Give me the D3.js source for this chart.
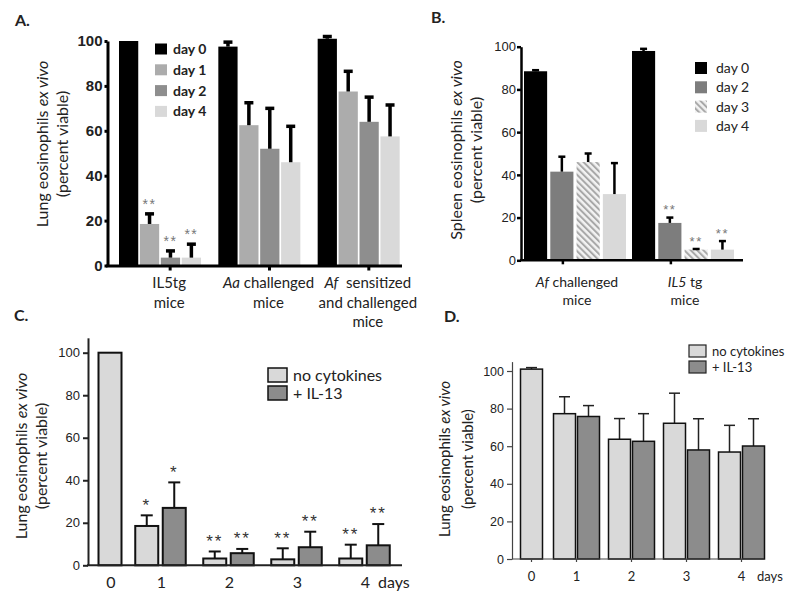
<!DOCTYPE html>
<html><head><meta charset="utf-8">
<script src="https://cdn.jsdelivr.net/npm/d3@7"></script>
<style>body{margin:0;background:#fff;}svg{display:block;}</style>
</head><body>
<svg id="chart" width="800" height="602"></svg>
<script>
// ================= DATA =================
// Panel A
const categoriesA = ["IL5tg mice", "Aa challenged mice", "Af sensitized and challenged mice"];
const labelLinesA = [["IL5tg", "mice"], ["<i>Aa</i> challenged", "mice"], ["<i>Af</i>\u00a0 sensitized", "and challenged", "mice"]];
const seriesA = ["day 0", "day 1", "day 2", "day 4"];
const meanA_day0 = [100, 97.5, 101];
const meanA_day1 = [18.5, 62.5, 77.5];
const meanA_day2 = [3.5, 52, 64];
const meanA_day4 = [3.5, 46, 57.5];
const semA_day0 = [0, 2, 1];
const semA_day1 = [4.5, 10, 9];
const semA_day2 = [3, 18, 11];
const semA_day4 = [6, 16, 14];
const starsA_day0 = ["", "", ""];
const starsA_day1 = ["**", "", ""];
const starsA_day2 = ["**", "", ""];
const starsA_day4 = ["**", "", ""];
const ticksA = [0, 20, 40, 60, 80, 100];

// Panel B
const categoriesB = ["Af challenged mice", "IL5 tg mice"];
const labelLinesB = [["<i>Af</i> challenged", "mice"], ["<i>IL5</i> tg", "mice"]];
const seriesB = ["day 0", "day 2", "day 3", "day 4"];
const meanB_day0 = [88.5, 98];
const meanB_day2 = [41.5, 17.5];
const meanB_day3 = [46, 5];
const meanB_day4 = [31, 5];
const semB_day0 = [0.5, 1];
const semB_day2 = [7, 2.5];
const semB_day3 = [4, 0.3];
const semB_day4 = [14.5, 4];
const starsB_day0 = ["", ""];
const starsB_day2 = ["", "**"];
const starsB_day3 = ["", "**"];
const starsB_day4 = ["", "**"];
const ticksB = [0, 20, 40, 60, 80, 100];

// Panel C
const daysC = [0, 1, 2, 3, 4];
const seriesC = ["no cytokines", "+ IL-13"];
const meanC_none = [100, 18.5, 3.2, 2.8, 3.2];
const meanC_il13 = [null, 27, 5.7, 8.5, 9.4];
const semC_none = [0, 5, 3.3, 5.2, 6.5];
const semC_il13 = [null, 12, 2, 7.3, 10];
const starsC_none = ["", "*", "**", "**", "**"];
const starsC_il13 = ["", "*", "**", "**", "**"];
const ticksC = [0, 20, 40, 60, 80, 100];

// Panel D
const daysD = [0, 1, 2, 3, 4];
const seriesD = ["no cytokines", "+ IL-13"];
const meanD_none = [101, 77.3, 63.7, 72.2, 56.9];
const meanD_il13 = [null, 75.8, 62.6, 58, 60.1];
const semD_none = [0.8, 9, 11, 16, 14.2];
const semD_il13 = [null, 5.8, 14.7, 16.6, 14.5];
const ticksD = [0, 20, 40, 60, 80, 100];

const yTitleLines = ["Lung eosinophils <i>ex vivo</i>", "(percent viable)"];
const yTitleLinesB = ["Spleen eosinophils <i>ex vivo</i>", "(percent viable)"];

// ================= HELPERS =================
const svg = d3.select("#chart");
const FONT = "Lato, 'Open Sans', sans-serif";
const ARIAL = "'Liberation Sans', Arial, sans-serif";
const INK = "#222";

const defs = svg.append("defs");
const pat = defs.append("pattern").attr("id", "hatch").attr("patternUnits", "userSpaceOnUse")
  .attr("width", 4.5).attr("height", 4.5).attr("patternTransform", "rotate(-45)");
pat.append("rect").attr("width", 4.5).attr("height", 4.5).attr("fill", "#f2f2f2");
pat.append("rect").attr("width", 2).attr("height", 4.5).attr("fill", "#a8a8a8");

function rich(textSel, str) {
  str.split(/(<i>.*?<\/i>)/).filter(s => s.length).forEach(s => {
    const it = s.startsWith("<i>");
    textSel.append("tspan").attr("font-style", it ? "italic" : null).text(it ? s.slice(3, -4) : s);
  });
}
function yTitle(x1, x2, cy, lines, size) {
  lines.forEach((ln, i) => {
    const t = svg.append("text").attr("transform", `translate(${i ? x2 : x1},${cy}) rotate(-90)`)
      .attr("text-anchor", "middle").attr("dy", "0.35em").attr("font-family", FONT)
      .attr("font-size", size).attr("fill", INK);
    rich(t, ln);
  });
}
function panelLabel(x, y, txt) {
  svg.append("text").attr("x", x).attr("y", y).attr("font-family", FONT).attr("font-weight", 700)
    .attr("font-size", 16).attr("fill", INK).text(txt);
}
function yAxis(scale, x, ticks, opts) {
  const g = svg.append("g").attr("transform", `translate(${x},0)`)
    .call(d3.axisLeft(scale).tickValues(ticks).tickSize(opts.tick).tickSizeOuter(0).tickPadding(opts.pad));
  g.select(".domain").attr("stroke", opts.color).attr("stroke-width", opts.width);
  g.selectAll(".tick line").attr("stroke", opts.color).attr("stroke-width", opts.width);
  g.selectAll(".tick text").attr("font-family", ARIAL).attr("font-size", opts.font)
    .attr("font-weight", opts.bold ? 700 : 400).attr("fill", INK);
  return g;
}
function errBar(g, x, y0, y1, cap, w, color) {
  g.append("line").attr("x1", x).attr("x2", x).attr("y1", y0).attr("y2", y1).attr("stroke", color).attr("stroke-width", w);
  g.append("line").attr("x1", x - cap / 2).attr("x2", x + cap / 2).attr("y1", y1).attr("y2", y1).attr("stroke", color).attr("stroke-width", w);
}
function star(g, x, cy, txt, size, color, ls) {
  if (!txt) return;
  g.append("text").attr("x", x).attr("y", cy + size * 0.58).attr("text-anchor", "middle")
    .attr("font-family", ARIAL).attr("font-size", size).attr("fill", color)
    .attr("letter-spacing", ls).text(txt);
}

// ================= PANEL A =================
{
  const yA = d3.scaleLinear().domain([0, 100]).range([265.5, 41]);
  const xA0 = d3.scaleBand().domain(categoriesA).range([119, 417]);
  const xA1 = d3.scaleBand().domain(seriesA).range([0, 82]).paddingInner(0.08);
  const colA = d3.scaleOrdinal().domain(seriesA).range(["#000000", "#acacac", "#8e8e8e", "#d9d9d9"]);
  const means = [meanA_day0, meanA_day1, meanA_day2, meanA_day4];
  const sems = [semA_day0, semA_day1, semA_day2, semA_day4];
  const stars = [starsA_day0, starsA_day1, starsA_day2, starsA_day4];
  const rows = [];
  seriesA.forEach((s, si) => categoriesA.forEach((c, ci) =>
    rows.push({ s, c, v: means[si][ci], e: sems[si][ci], st: stars[si][ci] })));
  const g = svg.append("g");
  g.selectAll("rect").data(rows).join("rect")
    .attr("x", d => xA0(d.c) + xA1(d.s)).attr("width", xA1.bandwidth())
    .attr("y", d => yA(d.v)).attr("height", d => yA(0) - yA(d.v)).attr("fill", d => colA(d.s));
  rows.forEach(d => {
    const cx = xA0(d.c) + xA1(d.s) + xA1.bandwidth() / 2;
    if (d.e > 0) errBar(g, cx, yA(d.v), yA(d.v + d.e), 9, 3.5, "#000");
    star(g, cx, yA(d.v + d.e) - 13, d.st, 14, "#777", 1.5);
  });
  yAxis(yA, 107.5, ticksA, { tick: 3, pad: 2, color: "#000", width: 3, font: 15, bold: true });
  svg.append("line").attr("x1", 106).attr("x2", 402).attr("y1", yA(0) + 0.5).attr("y2", yA(0) + 0.5)
    .attr("stroke", "#000").attr("stroke-width", 3);
  categoriesA.forEach((c, ci) => {
    const tx = xA0(c) + xA0.bandwidth() * 0.515;
    svg.append("line").attr("x1", tx).attr("x2", tx).attr("y1", yA(0)).attr("y2", yA(0) + 5)
      .attr("stroke", "#000").attr("stroke-width", 3);
    labelLinesA[ci].forEach((ln, li) => {
      const t = svg.append("text").attr("x", tx - 1).attr("y", 283 + li * 19.5).attr("dy", "0.35em")
        .attr("text-anchor", "middle").attr("font-family", FONT).attr("font-size", 15).attr("fill", INK);
      rich(t, ln);
    });
  });
  seriesA.forEach((s, i) => {
    const cy = 49 + i * 20.8;
    svg.append("rect").attr("x", 155).attr("y", cy - 5.5).attr("width", 12).attr("height", 11).attr("fill", colA(s));
    svg.append("text").attr("x", 173).attr("y", cy).attr("dy", "0.35em").attr("font-family", FONT)
      .attr("font-weight", 700).attr("font-size", 14).attr("fill", INK).text(s);
  });
  yTitle(42, 62, 144, yTitleLines, 16);
  panelLabel(15, 26, "A.");
}

// ================= PANEL B =================
{
  const yB = d3.scaleLinear().domain([0, 100]).range([260.3, 46.7]);
  const xB0 = d3.scaleBand().domain(categoriesB).range([524, 740]);
  const xB1 = d3.scaleBand().domain(seriesB).range([0, 102]).paddingInner(0.12);
  const colB = d3.scaleOrdinal().domain(seriesB).range(["#000000", "#7d7d7d", "url(#hatch)", "#d9d9d9"]);
  const means = [meanB_day0, meanB_day2, meanB_day3, meanB_day4];
  const sems = [semB_day0, semB_day2, semB_day3, semB_day4];
  const stars = [starsB_day0, starsB_day2, starsB_day3, starsB_day4];
  const rows = [];
  seriesB.forEach((s, si) => categoriesB.forEach((c, ci) =>
    rows.push({ s, c, v: means[si][ci], e: sems[si][ci], st: stars[si][ci] })));
  const g = svg.append("g");
  g.selectAll("rect").data(rows).join("rect")
    .attr("x", d => xB0(d.c) + xB1(d.s)).attr("width", xB1.bandwidth())
    .attr("y", d => yB(d.v)).attr("height", d => yB(0) - yB(d.v)).attr("fill", d => colB(d.s));
  rows.forEach(d => {
    const cx = xB0(d.c) + xB1(d.s) + xB1.bandwidth() / 2;
    errBar(g, cx, yB(d.v), yB(d.v + d.e), 7, 2.5, "#000");
    star(g, cx, yB(d.v + d.e) - 11, d.st, 13, "#777", 1.5);
  });
  yAxis(yB, 521, ticksB, { tick: 4, pad: 1, color: "#000", width: 2.5, font: 13, bold: false });
  svg.append("line").attr("x1", 520).attr("x2", 743).attr("y1", yB(0)).attr("y2", yB(0))
    .attr("stroke", "#000").attr("stroke-width", 2.5);
  categoriesB.forEach((c, ci) => {
    const tx = xB0(c) + xB0.bandwidth() * 0.36;
    svg.append("line").attr("x1", tx).attr("x2", tx).attr("y1", yB(0)).attr("y2", yB(0) + 4)
      .attr("stroke", "#000").attr("stroke-width", 2.5);
    const cx = xB0(c) + xB0.bandwidth() * 0.5;
    labelLinesB[ci].forEach((ln, li) => {
      const t = svg.append("text").attr("x", cx - 1).attr("y", 282 + li * 18.5).attr("dy", "0.35em")
        .attr("text-anchor", "middle").attr("font-family", FONT).attr("font-size", 14).attr("fill", INK);
      rich(t, ln);
    });
  });
  seriesB.forEach((s, i) => {
    const cy = 68 + i * 19.3;
    svg.append("rect").attr("x", 695).attr("y", cy - 6).attr("width", 12).attr("height", 12).attr("fill", colB(s));
    svg.append("text").attr("x", 716).attr("y", cy).attr("dy", "0.35em").attr("font-family", FONT)
      .attr("font-size", 14).attr("fill", INK).text(s);
  });
  yTitle(456, 476, 150, yTitleLinesB, 16);
  panelLabel(431, 23, "B.");
}

// ================= PANEL C =================
{
  const yC = d3.scaleLinear().domain([0, 107]).range([565.3, 565.3 - 107 * 2.126]);
  const xC = d3.scaleLinear().domain([0, 1, 4]).range([110, 160.5, 364.5]);
  const colC = d3.scaleOrdinal().domain(seriesC).range(["#d9d9d9", "#8c8c8c"]);
  const bw = 23, gap = 4.5;
  const rows = [];
  daysC.forEach((d, i) => {
    const pair = meanC_il13[i] != null;
    rows.push({ s: seriesC[0], v: meanC_none[i], e: semC_none[i], st: starsC_none[i], x: pair ? xC(d) - gap / 2 - bw : xC(d) - bw / 2 });
    if (pair) rows.push({ s: seriesC[1], v: meanC_il13[i], e: semC_il13[i], st: starsC_il13[i], x: xC(d) + gap / 2 });
  });
  const g = svg.append("g");
  rows.forEach(d => {
    if (d.e > 0) errBar(g, d.x + bw / 2, yC(d.v), yC(d.v + d.e), 12, 2, "#111");
  });
  g.selectAll("rect").data(rows).join("rect")
    .attr("x", d => d.x).attr("width", bw).attr("y", d => yC(d.v)).attr("height", d => yC(0) - yC(d.v))
    .attr("fill", d => colC(d.s)).attr("stroke", "#111").attr("stroke-width", 2);
  rows.forEach(d => star(g, d.x + bw / 2, yC(d.v + d.e) - 14.5, d.st, 17, "#333", 2));
  yAxis(yC, 88, ticksC, { tick: 5, pad: 3, color: "#222", width: 2, font: 13, bold: false });
  svg.append("line").attr("x1", 87).attr("x2", 402).attr("y1", yC(0)).attr("y2", yC(0))
    .attr("stroke", "#222").attr("stroke-width", 2);
  daysC.forEach(d => {
    svg.append("text").attr("x", xC(d) + 1).attr("y", 582).attr("dy", "0.35em").attr("text-anchor", "middle")
      .attr("font-family", FONT).attr("font-size", 16).attr("fill", INK).text(d);
  });
  svg.append("text").attr("x", 378).attr("y", 582).attr("dy", "0.35em").attr("font-family", FONT)
    .attr("font-size", 16).attr("fill", INK).text("days");
  seriesC.forEach((s, i) => {
    const cy = 375 + i * 18;
    svg.append("rect").attr("x", 268).attr("y", cy - 7).attr("width", 19).attr("height", 14)
      .attr("fill", colC(s)).attr("stroke", "#111").attr("stroke-width", 1.5);
    svg.append("text").attr("x", 293).attr("y", cy).attr("dy", "0.35em").attr("font-family", FONT)
      .attr("font-size", 16).attr("fill", INK).text(s);
  });
  yTitle(21, 41, 456, yTitleLines, 16);
  panelLabel(14, 321, "C.");
}

// ================= PANEL D =================
{
  const yD = d3.scaleLinear().domain([0, 105]).range([559, 559 - 105 * 1.88]);
  const xD = d3.scaleLinear().domain([0, 1, 4]).range([531.5, 576.5, 741.5]);
  const colD = d3.scaleOrdinal().domain(seriesD).range(["#d9d9d9", "#8c8c8c"]);
  const bw = 22, gap = 2;
  const rows = [];
  daysD.forEach((d, i) => {
    const pair = meanD_il13[i] != null;
    rows.push({ s: seriesD[0], v: meanD_none[i], e: semD_none[i], x: pair ? xD(d) - gap / 2 - bw : xD(d) - bw / 2 });
    if (pair) rows.push({ s: seriesD[1], v: meanD_il13[i], e: semD_il13[i], x: xD(d) + gap / 2 });
  });
  const g = svg.append("g");
  rows.forEach(d => errBar(g, d.x + bw / 2, yD(d.v), yD(d.v + d.e), 11, 1.5, "#222"));
  g.selectAll("rect").data(rows).join("rect")
    .attr("x", d => d.x).attr("width", bw).attr("y", d => yD(d.v)).attr("height", d => yD(0) - yD(d.v))
    .attr("fill", d => colD(d.s)).attr("stroke", "#111").attr("stroke-width", 1.5);
  yAxis(yD, 512, ticksD, { tick: 5, pad: 3, color: "#444", width: 1.2, font: 12.5, bold: false });
  svg.append("line").attr("x1", 512).attr("x2", 764).attr("y1", yD(0)).attr("y2", yD(0))
    .attr("stroke", "#444").attr("stroke-width", 1.2);
  daysD.forEach(d => {
    svg.append("line").attr("x1", xD(d)).attr("x2", xD(d)).attr("y1", yD(0)).attr("y2", yD(0) + 3)
      .attr("stroke", "#444").attr("stroke-width", 1.2);
    svg.append("text").attr("x", xD(d)).attr("y", 576).attr("dy", "0.35em").attr("text-anchor", "middle")
      .attr("font-family", FONT).attr("font-size", 13).attr("fill", INK).text(d);
  });
  svg.append("text").attr("x", 757).attr("y", 576).attr("dy", "0.35em").attr("font-family", FONT)
    .attr("font-size", 13).attr("fill", INK).text("days");
  seriesD.forEach((s, i) => {
    const cy = 351 + i * 16;
    svg.append("rect").attr("x", 689).attr("y", cy - 6).attr("width", 17).attr("height", 12)
      .attr("fill", colD(s)).attr("stroke", "#222").attr("stroke-width", 1.2);
    svg.append("text").attr("x", 712).attr("y", cy).attr("dy", "0.35em").attr("font-family", FONT)
      .attr("font-size", 13).attr("fill", INK).text(s);
  });
  yTitle(445, 468, 459, yTitleLines, 15);
  panelLabel(444, 322, "D.");
}
</script>
</body></html>
